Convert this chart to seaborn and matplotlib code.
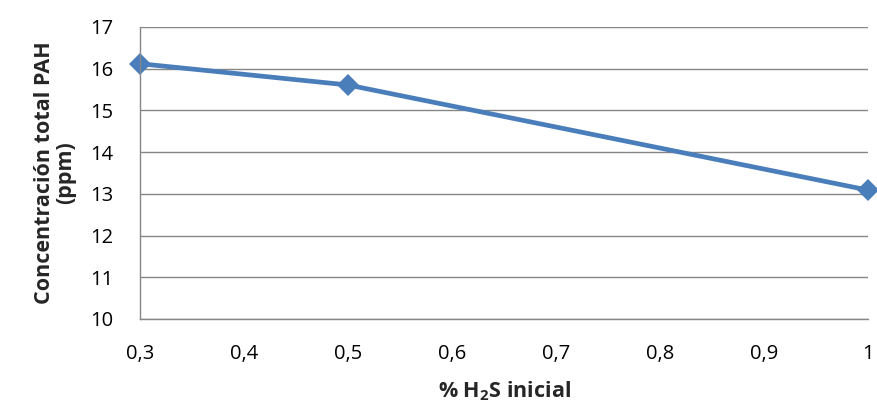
import matplotlib
matplotlib.use("Agg")
import matplotlib.pyplot as plt
import matplotlib.ticker as mticker
import seaborn as sns
import pandas as pd

h2s_inicial = [0.3, 0.5, 1.0]
pah_total = [16.12, 15.61, 13.09]
x_ticks = [0.3, 0.4, 0.5, 0.6, 0.7, 0.8, 0.9, 1.0]
y_ticks = [10, 11, 12, 13, 14, 15, 16, 17]

sns.set_theme(style="white")
plt.rcParams["font.family"] = ["Open Sans", "DejaVu Sans"]
plt.rcParams["mathtext.fontset"] = "custom"
plt.rcParams["mathtext.bf"] = "Open Sans:bold"
plt.rcParams["mathtext.rm"] = "Open Sans"

df = pd.DataFrame({"h2s": h2s_inicial, "pah": pah_total})

fig = plt.figure(figsize=(8.77, 4.05), dpi=100)
ax = fig.add_axes([140 / 877, 1 - 319 / 405, (868 - 140) / 877, (319 - 27) / 405])

sns.lineplot(data=df, x="h2s", y="pah", ax=ax, color="#4A7EBB", linewidth=3.4,
             marker="D", markersize=11, markeredgewidth=0, clip_on=False)

ax.set_xlim(0.3, 1.0)
ax.set_ylim(10, 17)
ax.set_xticks(x_ticks)
ax.set_yticks(y_ticks)
ax.xaxis.set_major_formatter(mticker.FuncFormatter(lambda v, p: f"{v:g}".replace(".", ",")))
ax.tick_params(axis="y", length=0, labelsize=14.5, colors="black", pad=19)
ax.tick_params(axis="x", length=0, labelsize=14.5, colors="black", pad=18)

ax.grid(axis="y", color="#868686", linewidth=1.0)
ax.set_axisbelow(True)
for side in ["top", "right"]:
    ax.spines[side].set_visible(False)
for side in ["left", "bottom"]:
    ax.spines[side].set_color("#868686")
    ax.spines[side].set_linewidth(1.0)

ax.set_xlabel(r"% H$_{\mathbf{2}}$S inicial", fontsize=15.5, fontweight="bold", labelpad=11)
ax.set_ylabel("Concentración total PAH\n(ppm)", fontsize=15.5, fontweight="bold",
              labelpad=10, linespacing=1.0)

fig.savefig("out.png", dpi=100)
